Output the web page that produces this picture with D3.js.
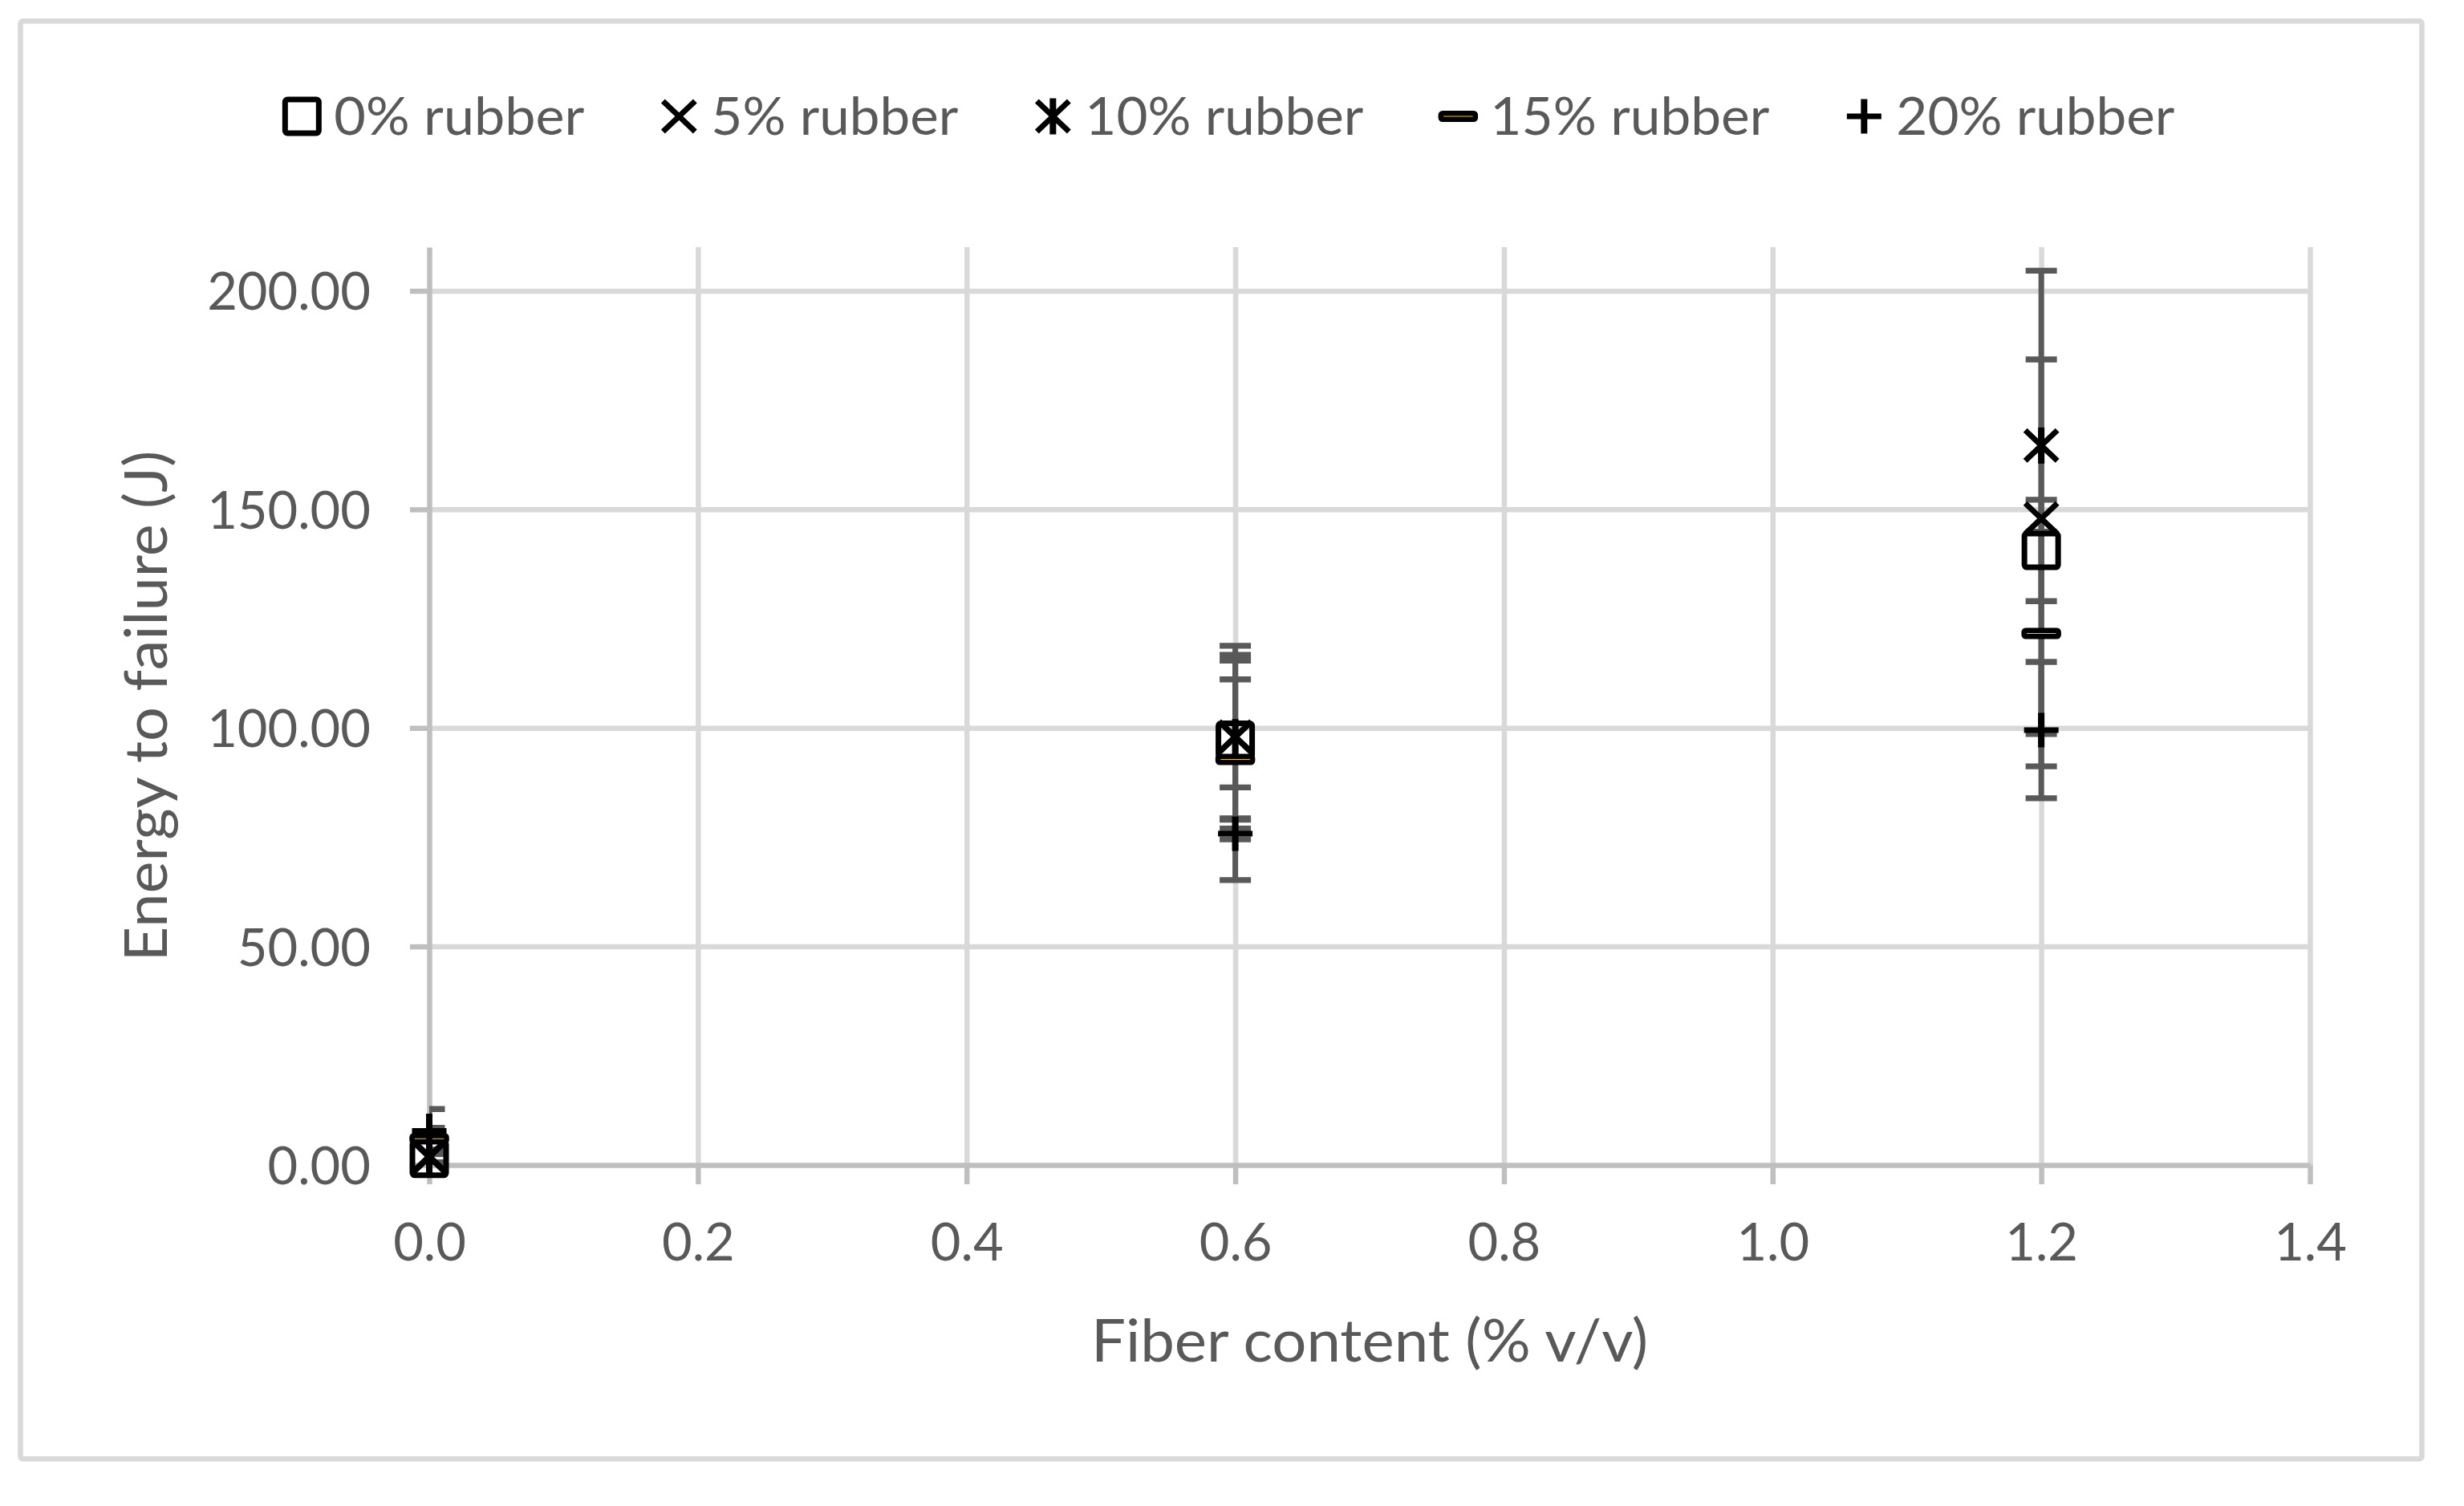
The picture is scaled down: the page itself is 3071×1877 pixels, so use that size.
<!DOCTYPE html>
<html>
<head>
<meta charset="utf-8">
<script src="https://cdn.jsdelivr.net/npm/d3@7"></script>
<style>
  body { margin: 0; background: #fff; }
  text { font-family: Lato, "Open Sans", sans-serif; fill: #595959; }
</style>
</head>
<body>
<div id="chart"></div>
<script>
"use strict";

// values
var fiberContent = [0, 0.6, 1.2];
var seriesNames = ["0% rubber", "5% rubber", "10% rubber", "15% rubber", "20% rubber"];
var seriesShapes = ["square", "x", "star", "dash", "plus"];

var energy0 = [1.5, 97.2, 140.6];
var error0 = [1.0, 18.2, 11.6];
var energy5 = [1.8, 98.0, 147.9];
var error5 = [1.2, 18.7, 56.7];
var energy10 = [2.0, 97.9, 164.6];
var error10 = [1.5, 20.9, 19.7];
var energy15 = [6.0, 92.8, 121.6];
var error15 = [2.5, 18.3, 23.0];
var energy20 = [7.8, 75.8, 99.5];
var error20 = [5.0, 10.6, 15.6];

var xTicks = [0, 0.2, 0.4, 0.6, 0.8, 1.0, 1.2, 1.4];
var yTicks = [0, 50, 100, 150, 200];
var xTitle = "Fiber content (% v/v)";
var yTitle = "Energy to failure (J)";

// legend label widths in the original (Calibri) rendering
var legendLabelWidths = [312, 308, 347, 348, 347];

var series = [
  { name: seriesNames[0], shape: seriesShapes[0], values: energy0, errors: error0 },
  { name: seriesNames[1], shape: seriesShapes[1], values: energy5, errors: error5 },
  { name: seriesNames[2], shape: seriesShapes[2], values: energy10, errors: error10 },
  { name: seriesNames[3], shape: seriesShapes[3], values: energy15, errors: error15 },
  { name: seriesNames[4], shape: seriesShapes[4], values: energy20, errors: error20 }
];

var width = 3071,
  height = 1877,
  plot = { left: 535, right: 2879, top: 308, bottom: 1452 };

var x = d3.scaleLinear().domain([0, 1.4]).range([plot.left, plot.right]);
var y = d3.scaleLinear().domain([0, 210]).range([plot.bottom, plot.top]);

var svg = d3
  .select("#chart")
  .append("svg")
  .attr("width", width)
  .attr("height", height);

svg
  .append("rect")
  .attr("width", width)
  .attr("height", height)
  .attr("fill", "#fff");

// chart border
svg
  .append("rect")
  .attr("x", 25.5)
  .attr("y", 26.3)
  .attr("width", 2993)
  .attr("height", 1792)
  .attr("rx", 3)
  .attr("fill", "none")
  .attr("stroke", "#d9d9d9")
  .attr("stroke-width", 6.5);

svg
  .append("defs")
  .append("clipPath")
  .attr("id", "plotClip")
  .append("rect")
  .attr("x", plot.left)
  .attr("y", plot.top)
  .attr("width", plot.right - plot.left)
  .attr("height", plot.bottom - plot.top);

// gridlines
svg
  .append("g")
  .attr("transform", "translate(" + plot.left + ",0)")
  .call(
    d3.axisLeft(y)
      .tickValues(yTicks.slice(1))
      .tickSize(-(plot.right - plot.left))
      .tickFormat("")
  )
  .call(function(g) {
    g.select(".domain").remove();
    g.selectAll("line").attr("stroke", "#d9d9d9").attr("stroke-width", 6.5);
  });

svg
  .append("g")
  .attr("transform", "translate(0," + plot.bottom + ")")
  .call(
    d3.axisBottom(x)
      .tickValues(xTicks.slice(1))
      .tickSize(-(plot.bottom - plot.top))
      .tickFormat("")
  )
  .call(function(g) {
    g.select(".domain").remove();
    g.selectAll("line").attr("stroke", "#d9d9d9").attr("stroke-width", 6.5);
  });

// axes
svg
  .append("g")
  .attr("transform", "translate(0," + plot.bottom + ")")
  .call(
    d3.axisBottom(x)
      .tickValues(xTicks)
      .tickSize(24)
      .tickSizeOuter(0)
      .tickFormat(d3.format(".1f"))
  )
  .call(function(g) {
    g.select(".domain").attr("stroke", "#bfbfbf").attr("stroke-width", 6.5);
    g.selectAll(".tick line").attr("stroke", "#bfbfbf").attr("stroke-width", 6.5);
    g.selectAll(".tick text")
      .attr("y", 119)
      .attr("dy", null)
      .attr("fill", "#595959")
      .style("font-size", "65px");
  });

svg
  .append("g")
  .attr("transform", "translate(" + plot.left + ",0)")
  .call(
    d3.axisLeft(y)
      .tickValues(yTicks)
      .tickSize(24)
      .tickSizeOuter(0)
      .tickFormat(d3.format(".2f"))
  )
  .call(function(g) {
    g.select(".domain").attr("stroke", "#bfbfbf").attr("stroke-width", 6.5);
    g.selectAll(".tick line").attr("stroke", "#bfbfbf").attr("stroke-width", 6.5);
    g.selectAll(".tick text")
      .attr("x", -73)
      .attr("dy", "0.36em")
      .attr("fill", "#595959")
      .style("font-size", "65px");
  });

// axis titles
svg
  .append("text")
  .attr("x", (plot.left + plot.right) / 2)
  .attr("y", 1697)
  .attr("text-anchor", "middle")
  .attr("textLength", 694)
  .attr("lengthAdjust", "spacingAndGlyphs")
  .style("font-size", "73px")
  .text(xTitle);

svg
  .append("text")
  .attr("transform", "translate(208," + (plot.top + plot.bottom) / 2 + ") rotate(-90)")
  .attr("text-anchor", "middle")
  .attr("textLength", 637)
  .attr("lengthAdjust", "spacingAndGlyphs")
  .style("font-size", "73px")
  .text(yTitle);

// error bars, clipped to the plot area
var points = [];
series.forEach(function(s) {
  fiberContent.forEach(function(f, i) {
    points.push({ x: f, y: s.values[i], e: s.errors[i], shape: s.shape });
  });
});

var bars = svg
  .append("g")
  .attr("clip-path", "url(#plotClip)")
  .attr("stroke", "#595959")
  .selectAll("g")
  .data(points)
  .enter()
  .append("g");

bars
  .append("line")
  .attr("x1", function(d) { return x(d.x); })
  .attr("x2", function(d) { return x(d.x); })
  .attr("y1", function(d) { return y(d.y + d.e); })
  .attr("y2", function(d) { return y(d.y - d.e); })
  .attr("stroke-width", 7);

bars
  .selectAll(".cap")
  .data(function(d) {
    return [
      { x: d.x, y: d.y + d.e },
      { x: d.x, y: d.y - d.e }
    ];
  })
  .enter()
  .append("line")
  .attr("class", "cap")
  .attr("x1", function(d) { return x(d.x) - 19.5; })
  .attr("x2", function(d) { return x(d.x) + 19.5; })
  .attr("y1", function(d) { return y(d.y); })
  .attr("y2", function(d) { return y(d.y); })
  .attr("stroke-width", 7.3);

function drawMarker(g, shape) {
  if (shape === "square") {
    g.append("rect")
      .attr("x", -21).attr("y", -21)
      .attr("width", 42).attr("height", 42)
      .attr("rx", 3)
      .attr("fill", "none")
      .attr("stroke", "#000")
      .attr("stroke-width", 7);
  }
  if (shape === "x" || shape === "star") {
    g.append("path")
      .attr("d", "M-20,-19L20,19M-20,19L20,-19")
      .attr("stroke", "#000")
      .attr("stroke-width", 7);
  }
  if (shape === "star") {
    g.append("path")
      .attr("d", "M0,-22.5V22.5")
      .attr("stroke", "#000")
      .attr("stroke-width", 8);
  }
  if (shape === "dash") {
    g.append("rect")
      .attr("x", -21.5).attr("y", -3.75)
      .attr("width", 43).attr("height", 7.5)
      .attr("rx", 2)
      .attr("fill", "#ffc000")
      .attr("stroke", "#000")
      .attr("stroke-width", 6.5);
  }
  if (shape === "plus") {
    g.append("path")
      .attr("d", "M-21.5,0H21.5")
      .attr("stroke", "#000")
      .attr("stroke-width", 7);
    g.append("path")
      .attr("d", "M0,-21.5V21.5")
      .attr("stroke", "#000")
      .attr("stroke-width", 8);
  }
}

svg
  .append("g")
  .selectAll("g")
  .data(points)
  .enter()
  .append("g")
  .attr("transform", function(d) {
    return "translate(" + x(d.x) + "," + y(d.y) + ")";
  })
  .each(function(d) {
    drawMarker(d3.select(this), d.shape);
  });

// legend
var legend = svg.append("g");
var cursor = 0;
series.forEach(function(s, i) {
  var item = legend.append("g").attr("transform", "translate(" + cursor + ",0)");
  var m = item.append("g").attr("transform", "translate(0,145)");
  drawMarker(m, s.shape);
  item
    .append("text")
    .attr("x", 40)
    .attr("y", 168)
    .attr("textLength", legendLabelWidths[i])
    .attr("lengthAdjust", "spacingAndGlyphs")
    .style("font-size", "65px")
    .text(s.name);
  cursor += 40 + legendLabelWidths[i] + 118;
});
var legendBox = legend.node().getBBox();
legend.attr("transform", "translate(" + (1533 - legendBox.x - legendBox.width / 2) + ",0)");
</script>
</body>
</html>
